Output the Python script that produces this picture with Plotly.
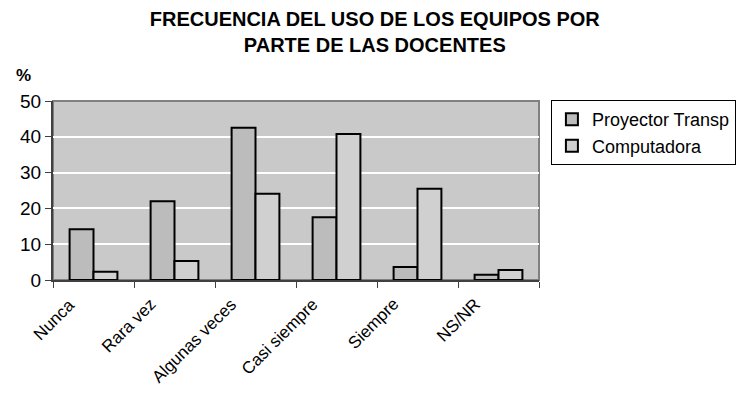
import plotly.graph_objects as go

# --- Data
categorias = ["Nunca", "Rara vez", "Algunas veces", "Casi siempre", "Siempre", "NS/NR"]
proyector = [14.2, 22.0, 42.5, 17.5, 3.6, 1.5]
computadora = [2.3, 5.3, 24.1, 40.8, 25.5, 2.8]
y_ticks = [0, 10, 20, 30, 40, 50]

FONT = "Liberation Sans, Arial, sans-serif"

fig = go.Figure()
fig.add_trace(go.Bar(x=categorias, y=proyector, name="Proyector Transp",
                     marker=dict(color="#bcbcbc", line=dict(color="black", width=2))))
fig.add_trace(go.Bar(x=categorias, y=computadora, name="Computadora",
                     marker=dict(color="#d0d0d0", line=dict(color="black", width=2))))

# page body has an 8px margin, so margins are shifted a bit
fig.update_layout(
    width=744, height=408,
    margin=dict(l=42, r=213, t=93, b=136),
    paper_bgcolor="white", plot_bgcolor="#c9c9c9",
    barmode="group", bargap=0.41, bargroupgap=0,
    font=dict(family=FONT, color="black"),
    title=dict(text="<b>FRECUENCIA DEL USO DE LOS EQUIPOS POR<br>PARTE DE LAS DOCENTES</b>",
               x=0.493, xanchor="center", y=0.955, yanchor="top",
               font=dict(size=20, family=FONT)),
    legend=dict(x=1.0245, xanchor="left", y=1.005, yanchor="top",
                bordercolor="black", borderwidth=1, bgcolor="white",
                font=dict(size=18, family=FONT), tracegroupgap=0,
                itemwidth=30),
    showlegend=True,
)

fig.update_xaxes(
    range=[-0.5, len(categorias) - 0.5], autorange=False,
    tickson="boundaries", ticks="outside", ticklen=6, tickcolor="#404040",
    showline=True, linecolor="#404040", linewidth=2,
    showticklabels=False, showgrid=False,
)
fig.update_yaxes(
    range=[0, 50], tickvals=y_ticks, ticks="outside", ticklen=6, tickcolor="#404040",
    showline=True, linecolor="#404040", linewidth=2,
    gridcolor="white", gridwidth=1.5, zeroline=False,
    tickfont=dict(size=19, family=FONT),
)

# gray border on top and right of plot area
fig.add_shape(type="rect", xref="paper", yref="paper", x0=0, x1=1, y0=0, y1=1,
              line=dict(color="#808080", width=2), fillcolor="rgba(0,0,0,0)", layer="below")

# category labels, rotated, ending a little left of each category centre
for cat in categorias:
    fig.add_annotation(text=cat, x=cat, xref="x", y=0, yref="paper",
                       xanchor="right", yanchor="top", textangle=-45,
                       xshift=-12, yshift=-12, showarrow=False,
                       font=dict(size=17, family=FONT))

fig.add_annotation(text="<b>%</b>", xref="paper", yref="paper", x=-0.061, y=1.145,
                   xanchor="center", yanchor="middle", showarrow=False,
                   font=dict(size=17, family=FONT))

fig.write_html("out.html")
